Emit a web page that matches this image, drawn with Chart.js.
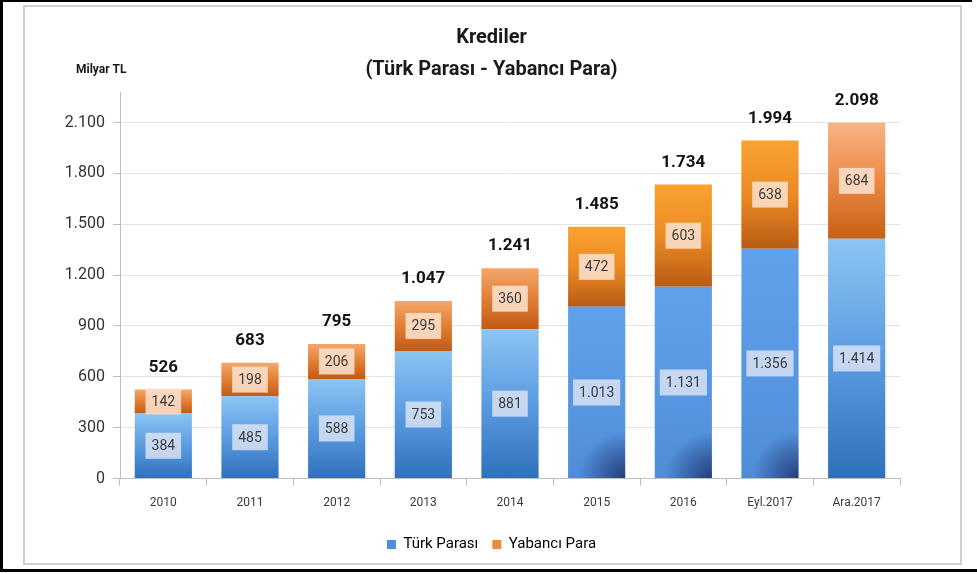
<!DOCTYPE html>
<html>
<head>
<meta charset="utf-8">
<script src="https://cdn.jsdelivr.net/npm/chart.js@4.4.0/dist/chart.umd.min.js"></script>
<style>
  html, body { margin: 0; padding: 0; background: #fff; }
  #wrap { position: relative; width: 977px; height: 574px; overflow: hidden; }
  #frame { position: absolute; left: 23px; top: 5px; width: 935px; height: 556px; border: 2px solid #d0d0d0; }
  #lineL { position: absolute; left: 0; top: 0; width: 3px; height: 572px; background: #000; }
  #lineT { position: absolute; left: 0; top: 0; width: 972px; height: 2px; background: #000; }
  #lineB { position: absolute; left: 0; top: 569px; width: 977px; height: 3px; background: #000; }
  canvas { position: absolute; left: 0; top: 0; }
</style>
</head>
<body>
<div id="wrap">
  <div id="frame"></div>
  <div id="lineL"></div>
  <div id="lineT"></div>
  <div id="lineB"></div>
  <canvas id="grafik" width="977" height="574"></canvas>
</div>
<script>
// veriler (milyar TL)
const categories = ['2010', '2011', '2012', '2013', '2014', '2015', '2016', 'Eyl.2017', 'Ara.2017'];
const turkParasi = [384, 485, 588, 753, 881, 1013, 1131, 1356, 1414];
const yabanciPara = [142, 198, 206, 295, 360, 472, 603, 638, 684];
const totals = [526, 683, 795, 1047, 1241, 1485, 1734, 1994, 2098];
const yTicks = [0, 300, 600, 900, 1200, 1500, 1800, 2100];

// renkler (her bar icin ust -> alt)
const blueA = ['#8cc4f3', '#5a9be0', '#2f70bb'];
const blueB = ['#5fa1ea', '#5898e2', '#4f8cd6'];
const orangeA = ['#f4a76c', '#e07f35', '#c25a14'];
const orangeB = ['#f9a232', '#ec8a24', '#b95b14'];
const orangeC = ['#f7b484', '#eb8a45', '#c65f12'];
const blueStops = [blueA, blueA, blueA, blueA, blueA, blueB, blueB, blueB, blueA];
const orangeStops = [orangeA, orangeA, orangeA, orangeA, orangeA, orangeB, orangeB, orangeB, orangeC];
const darkCorner = [false, false, false, false, false, true, true, true, false];
const boxColors = ['rgba(228,232,246,0.78)', 'rgba(252,224,204,0.88)'];
const FONT = 'Roboto, "Noto Sans", sans-serif';

function fmt(v) {
  if (v < 1000) return String(v);
  return Math.floor(v / 1000) + '.' + String(v % 1000).padStart(3, '0');
}

function barFill(stops, base) {
  return function (ctx) {
    const chart = ctx.chart;
    const ys = chart.scales.y;
    if (ctx.type !== 'data' || !ys || !chart.chartArea) return stops[0][1];
    const i = ctx.dataIndex;
    const lo = base ? base[i] : 0;
    const top = ys.getPixelForValue(lo + ctx.raw);
    const bot = ys.getPixelForValue(lo);
    const g = chart.ctx.createLinearGradient(0, top, 0, bot);
    const s = stops[i];
    s.forEach((c, k) => g.addColorStop(k / (s.length - 1), c));
    return g;
  };
}

const etiketler = {
  id: 'etiketler',
  afterDatasetsDraw(chart) {
    const c = chart.ctx;
    c.save();
    // alt koseler koyu golge
    const blue = chart.getDatasetMeta(0);
    blue.data.forEach((bar, i) => {
      if (!darkCorner[i]) return;
      const w = bar.width;
      const x0 = bar.x - w / 2, x1 = bar.x + w / 2;
      c.save();
      c.beginPath();
      c.rect(x0, bar.y, w, bar.base - bar.y);
      c.clip();
      const rg = c.createRadialGradient(x1, bar.base, 0, x1, bar.base, 46);
      rg.addColorStop(0, 'rgba(28,48,105,0.85)');
      rg.addColorStop(1, 'rgba(28,48,105,0)');
      c.fillStyle = rg;
      c.fillRect(x0, bar.base - 60, w, 60);
      c.restore();
    });

    c.textAlign = 'center';
    c.textBaseline = 'middle';
    chart.data.datasets.forEach((ds, di) => {
      const meta = chart.getDatasetMeta(di);
      meta.data.forEach((bar, i) => {
        const txt = fmt(ds.data[i]);
        const cy = (bar.y + bar.base) / 2;
        c.font = '14px ' + FONT;
        const w = c.measureText(txt).width + 12;
        c.fillStyle = boxColors[di];
        c.fillRect(bar.x - w / 2, cy - 13, w, 26);
        c.fillStyle = '#3b3b3b';
        c.fillText(txt, bar.x, cy + 1);
      });
    });

    const top = chart.getDatasetMeta(1);
    c.font = 'bold 17px ' + FONT;
    c.fillStyle = '#141414';
    top.data.forEach((bar, i) => {
      c.fillText(fmt(totals[i]), bar.x, bar.y - 22);
    });

    c.font = 'bold 12px ' + FONT;
    c.textAlign = 'left';
    c.fillStyle = '#1a1a1a';
    c.fillText('Milyar TL', 76, 70);
    c.restore();
  }
};

const ctx = document.getElementById('grafik');
new Chart(ctx, {
  type: 'bar',
  data: {
    labels: categories,
    datasets: [{
      label: 'Türk Parası',
      data: turkParasi,
      backgroundColor: barFill(blueStops, null),
      legendColor: '#4f8fd6',
      barPercentage: 0.66,
      categoryPercentage: 1.0
    }, {
      label: 'Yabancı Para',
      data: yabanciPara,
      backgroundColor: barFill(orangeStops, turkParasi),
      legendColor: '#ec8a3a',
      barPercentage: 0.66,
      categoryPercentage: 1.0
    }]
  },
  options: {
    responsive: false,
    animation: false,
    layout: { padding: { top: 4, right: 0, bottom: 12, left: 6 } },
    plugins: {
      title: {
        display: true,
        text: ['Krediler', '(Türk Parası - Yabancı Para)'],
        color: '#1a1a1a',
        font: { family: FONT, size: 20, weight: 'bold', lineHeight: 1.6 },
        padding: { top: 18, bottom: 6 }
      },
      legend: {
        position: 'bottom',
        labels: {
          color: '#404040',
          font: { family: FONT, size: 15 },
          boxWidth: 9,
          boxHeight: 9,
          padding: 14,
          generateLabels(chart) {
            return chart.data.datasets.map((ds, i) => ({
              text: ds.label,
              fillStyle: ds.legendColor,
              strokeStyle: ds.legendColor,
              lineWidth: 0,
              datasetIndex: i,
              hidden: false
            }));
          }
        }
      },
      tooltip: { enabled: false }
    },
    scales: {
      x: {
        stacked: true,
        grid: { display: true, drawOnChartArea: false, offset: true, tickLength: 7, color: '#bdbdbd' },
        border: { color: '#bdbdbd' },
        ticks: { color: '#3a3a3a', font: { family: FONT, size: 12 }, padding: 10 },
        afterFit(scale) { scale.height += 3; }
      },
      y: {
        stacked: true,
        min: 0,
        max: 2280,
        afterBuildTicks(scale) { scale.ticks = yTicks.map(v => ({ value: v })); },
        afterFit(scale) { scale.width = 114; },
        grid: { color: '#e3e3e3', tickColor: '#bdbdbd', tickLength: 7 },
        border: { color: '#bdbdbd' },
        ticks: { color: '#333', font: { family: FONT, size: 16 }, padding: 8, callback: v => fmt(v) }
      },
      bosluk: {
        type: 'linear',
        position: 'right',
        display: true,
        grid: { display: false },
        border: { display: false },
        ticks: { display: false },
        afterFit(scale) { scale.width = 77; }
      }
    }
  },
  plugins: [etiketler]
});
</script>
</body>
</html>
